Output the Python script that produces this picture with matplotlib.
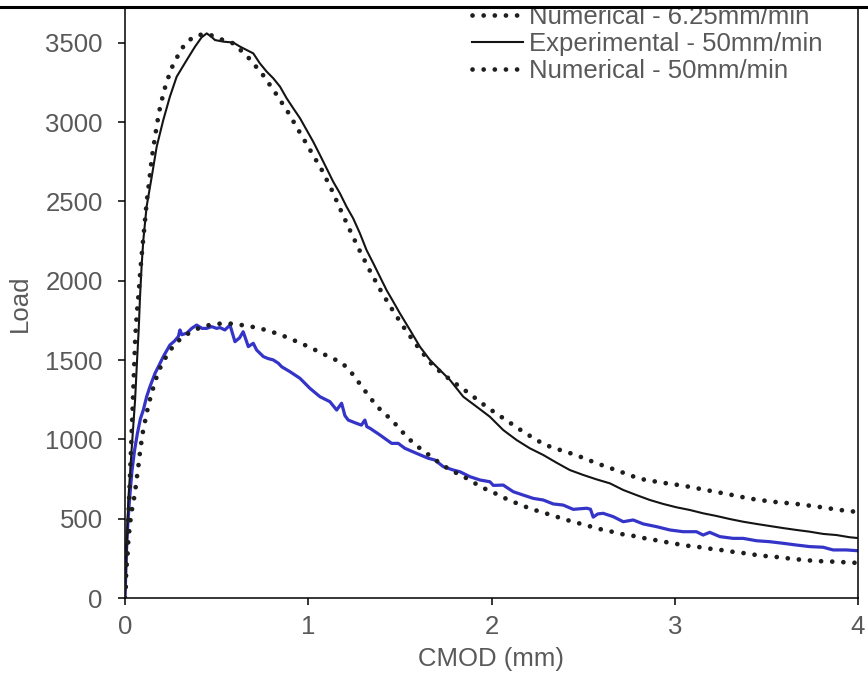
"""Load vs CMOD: experimental and numerical curves at two loading rates."""
import matplotlib
matplotlib.use("Agg")
import matplotlib.pyplot as plt
from matplotlib.lines import Line2D
from matplotlib.patches import Rectangle

plt.rcParams["font.family"] = ["Liberation Sans", "DejaVu Sans"]

TEXT_GREY = "#595959"

# Numerical - 50mm/min (upper dotted)
num50_x = [0, 0.016, 0.030, 0.045, 0.056, 0.064, 0.075, 0.084, 0.095, 0.107, 0.118,
           0.133, 0.147, 0.165, 0.185, 0.213, 0.251, 0.306, 0.345, 0.397, 0.458,
           0.518, 0.591, 0.669, 0.749, 0.820, 0.888, 0.949, 1.011, 1.073, 1.129,
           1.180, 1.231, 1.284, 1.340, 1.400, 1.464, 1.531, 1.604, 1.682, 1.777,
           1.877, 1.977, 2.079, 2.181, 2.286, 2.342, 2.460, 2.575, 2.693, 2.808,
           2.926, 3.048, 3.170, 3.293, 3.413, 3.533, 3.657, 3.779, 3.901, 4.0]
num50_y = [0, 429, 850, 1300, 1644, 1786, 1927, 2068, 2211, 2352, 2493,
           2636, 2779, 2917, 3060, 3199, 3334, 3459, 3514, 3550, 3554,
           3525, 3497, 3413, 3304, 3186, 3066, 2945, 2823, 2701, 2571,
           2438, 2310, 2182, 2055, 1929, 1808, 1690, 1574, 1463, 1374,
           1291, 1202, 1122, 1042, 969, 945, 902, 849, 801, 752,
           728, 708, 681, 654, 626, 607, 594, 576, 555, 542]

# Experimental - 50mm/min (solid black)
exp50_x = [0, 0.018, 0.036, 0.055, 0.065, 0.075, 0.082, 0.091, 0.100, 0.118, 0.146,
           0.173, 0.209, 0.245, 0.282, 0.337, 0.382, 0.418, 0.446, 0.470, 0.491,
           0.536, 0.591, 0.627, 0.664, 0.700, 0.736, 0.773, 0.809, 0.846, 0.882,
           0.918, 0.955, 0.991, 1.027, 1.064, 1.100, 1.136, 1.173, 1.209, 1.245,
           1.282, 1.318, 1.355, 1.391, 1.427, 1.464, 1.500, 1.555, 1.609, 1.664,
           1.718, 1.773, 1.846, 1.919, 1.991, 2.064, 2.137, 2.209, 2.282, 2.355,
           2.427, 2.500, 2.573, 2.646, 2.719, 2.791, 2.864, 2.937, 3.009, 3.082,
           3.155, 3.228, 3.300, 3.373, 3.446, 3.518, 3.591, 3.664, 3.737, 3.810,
           3.882, 3.955, 4.0]
exp50_y = [0, 618, 933, 1248, 1480, 1700, 1900, 2100, 2257, 2468, 2657,
           2846, 3014, 3161, 3287, 3392, 3476, 3535, 3560, 3540, 3518,
           3508, 3502, 3477, 3455, 3434, 3371, 3319, 3277, 3224, 3151,
           3088, 3025, 2951, 2877, 2793, 2709, 2625, 2551, 2467, 2394,
           2299, 2194, 2110, 2026, 1942, 1868, 1795, 1690, 1585, 1501,
           1438, 1375, 1269, 1206, 1143, 1059, 996, 944, 902, 853,
           807, 776, 748, 723, 681, 649, 618, 593, 572, 555,
           534, 517, 498, 481, 467, 454, 441, 429, 418, 404,
           397, 383, 378]

# Numerical - 6.25mm/min (lower dotted)
num625_x = [0, 0.004, 0.005, 0.009, 0.015, 0.018, 0.024, 0.031, 0.040, 0.051, 0.060,
            0.067, 0.075, 0.082, 0.091, 0.100, 0.113, 0.125, 0.140, 0.158, 0.176,
            0.200, 0.233, 0.267, 0.313, 0.367, 0.422, 0.482, 0.542, 0.604, 0.664,
            0.726, 0.786, 0.846, 0.900, 0.957, 1.013, 1.068, 1.124, 1.180, 1.224,
            1.262, 1.299, 1.337, 1.373, 1.418, 1.464, 1.504, 1.546, 1.591, 1.640,
            1.690, 1.740, 1.795, 1.849, 1.904, 1.958, 2.013, 2.068, 2.126, 2.184,
            2.241, 2.301, 2.359, 2.417, 2.477, 2.537, 2.597, 2.657, 2.715, 2.777,
            2.839, 2.899, 2.959, 3.019, 3.079, 3.141, 3.203, 3.264, 3.324, 3.384,
            3.446, 3.508, 3.570, 3.632, 3.692, 3.752, 3.813, 3.873, 3.933, 4.0]
num625_y = [0, 71, 145, 219, 292, 361, 429, 503, 572, 639, 713,
            780, 849, 922, 996, 1066, 1133, 1202, 1269, 1341, 1406,
            1473, 1538, 1595, 1644, 1683, 1711, 1726, 1732, 1728, 1715,
            1704, 1683, 1662, 1635, 1608, 1578, 1547, 1515, 1486, 1438,
            1381, 1322, 1265, 1210, 1162, 1112, 1059, 1007, 960, 918,
            874, 832, 796, 765, 727, 692, 664, 632, 603, 576,
            553, 532, 511, 490, 471, 452, 433, 418, 402, 391,
            376, 364, 351, 339, 328, 320, 309, 301, 290, 282,
            271, 263, 257, 248, 241, 235, 231, 229, 225, 221]

# Experimental - 6.25mm/min (blue, noisy)
exp625_x = [0, 0.008, 0.016, 0.026, 0.038, 0.052, 0.068, 0.084, 0.100, 0.118, 0.136,
            0.164, 0.182, 0.209, 0.245, 0.270, 0.291, 0.300, 0.310, 0.337, 0.364,
            0.391, 0.420, 0.446, 0.473, 0.500, 0.518, 0.545, 0.573, 0.600, 0.625,
            0.645, 0.673, 0.700, 0.718, 0.755, 0.780, 0.809, 0.837, 0.855, 0.900,
            0.955, 1.009, 1.064, 1.118, 1.155, 1.182, 1.200, 1.218, 1.264, 1.290,
            1.309, 1.320, 1.337, 1.391, 1.455, 1.491, 1.527, 1.591, 1.655, 1.691,
            1.737, 1.791, 1.828, 1.882, 1.937, 1.991, 2.010, 2.064, 2.119, 2.173,
            2.228, 2.282, 2.337, 2.391, 2.446, 2.519, 2.540, 2.555, 2.580, 2.609,
            2.664, 2.719, 2.773, 2.828, 2.900, 2.973, 3.046, 3.118, 3.155, 3.191,
            3.246, 3.318, 3.373, 3.446, 3.518, 3.591, 3.664, 3.737, 3.810, 3.864,
            3.937, 4.0]
exp625_y = [0, 300, 480, 640, 800, 930, 1040, 1130, 1185, 1269, 1332,
            1417, 1458, 1522, 1595, 1620, 1648, 1690, 1660, 1670, 1700,
            1721, 1700, 1700, 1711, 1700, 1705, 1690, 1721, 1616, 1640,
            1679, 1585, 1606, 1564, 1522, 1510, 1501, 1480, 1458, 1427,
            1385, 1322, 1269, 1238, 1185, 1228, 1150, 1122, 1101, 1090,
            1122, 1080, 1070, 1028, 975, 975, 944, 912, 881, 870,
            828, 807, 796, 765, 744, 733, 710, 712, 670, 649,
            628, 618, 593, 586, 559, 566, 560, 510, 530, 534,
            513, 481, 492, 467, 450, 429, 418, 418, 397, 414,
            387, 376, 376, 361, 355, 345, 334, 324, 320, 303,
            303, 298]

x_ticks = [0, 1, 2, 3, 4]
y_ticks = [0, 500, 1000, 1500, 2000, 2500, 3000, 3500]


def main():
    fig = plt.figure(figsize=(8.68, 6.79), dpi=100)
    ax = fig.add_axes([125 / 868, 1 - 598 / 679, (858 - 125) / 868, (598 - 8) / 679])

    dots = dict(color="#1e1e1e", lw=3.4, ls=(0, (0.01, 2.35)),
                dash_capstyle="round", solid_capstyle="round")

    ax.plot(exp625_x, exp625_y, color="#3434C8", lw=2.3, zorder=2)
    ax.plot(num625_x, num625_y, label="Numerical - 6.25mm/min", zorder=3, **dots)
    ax.plot(exp50_x, exp50_y, color="#141414", lw=1.5, label="Experimental - 50mm/min", zorder=3)
    ax.plot(num50_x, num50_y, label="Numerical - 50mm/min", zorder=3, **dots)

    ax.set_xlim(0, 4)
    ax.set_ylim(0, 3720)
    ax.set_xticks(x_ticks)
    ax.set_yticks(y_ticks)
    ax.tick_params(direction="out", length=5, width=1.1, color="black",
                   labelsize=18.5, labelcolor=TEXT_GREY)
    ax.tick_params(axis="y", pad=11)
    ax.tick_params(axis="x", pad=7)
    for side in ("left", "bottom", "right"):
        ax.spines[side].set_linewidth(1.1)
        ax.spines[side].set_color("black")
    ax.spines["top"].set_visible(False)

    ax.set_xlabel("CMOD (mm)", fontsize=18.5, color=TEXT_GREY, labelpad=6)
    ax.set_ylabel("Load", fontsize=18.5, color=TEXT_GREY, labelpad=10)

    ax.legend(loc="upper left", bbox_to_anchor=(472 / 868, 1 - 5 / 679),
              bbox_transform=fig.transFigure, frameon=False, fontsize=18.5,
              labelcolor=TEXT_GREY, handlelength=2.0, handletextpad=0.2,
              labelspacing=0.12, borderpad=0, borderaxespad=0)

    # cropped frame at the top of the picture
    fig.patches.append(Rectangle((0, 1 - 7 / 679), 1, 7 / 679, transform=fig.transFigure,
                                 facecolor="white", edgecolor="none", zorder=10))
    fig.lines.append(Line2D([0, 1], [1 - 7 / 679, 1 - 7 / 679], transform=fig.transFigure,
                            color="black", lw=2.2, zorder=11))

    fig.savefig("out.png", dpi=100)
    plt.close(fig)


if __name__ == "__main__":
    main()
